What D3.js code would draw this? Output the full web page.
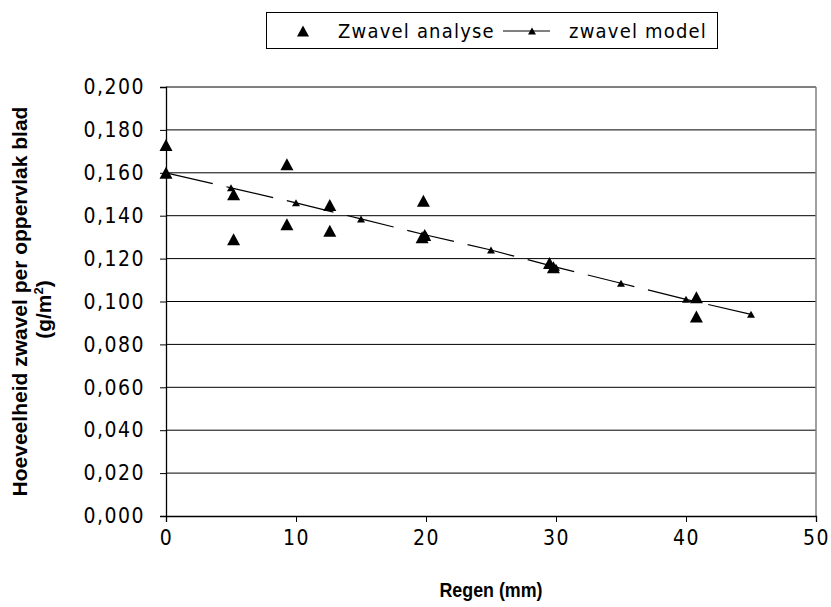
<!DOCTYPE html>
<html>
<head>
<meta charset="utf-8">
<script src="https://cdn.jsdelivr.net/npm/d3@7"></script>
<style>
  body { margin: 0; background: #fff; }
  .tick text, .leg text { font-family: "Liberation Sans Narrow", "DejaVu Sans Condensed", sans-serif; }
  .title { font-family: "Liberation Sans", Arial, sans-serif; font-weight: bold; }
</style>
</head>
<body>
<svg id="chart" width="831" height="607"></svg>
<script>
// measured data (regen in mm, zwavel in g/m2)
const analyseRegen = [0, 0, 5.2, 5.2, 9.3, 9.3, 12.6, 12.6, 19.8, 19.7, 19.9, 29.5, 29.8, 40.8, 40.8];
const analyseZwavel = [0.173, 0.160, 0.150, 0.129, 0.164, 0.136, 0.145, 0.133, 0.147, 0.130, 0.131, 0.118, 0.116, 0.102, 0.093];
const modelRegen = [0, 5, 10, 15, 20, 25, 30, 35, 40, 45];
const modelZwavel = [0.160, 0.153, 0.146, 0.1385, 0.131, 0.124, 0.116, 0.1085, 0.101, 0.094];
const xTicks = [0, 10, 20, 30, 40, 50];
const yTicks = [0, 0.02, 0.04, 0.06, 0.08, 0.1, 0.12, 0.14, 0.16, 0.18, 0.2];

const svg = d3.select("svg#chart");
const margin = { top: 87, right: 15, bottom: 91, left: 166 };
const width = +svg.attr("width");
const height = +svg.attr("height");
const plotW = width - margin.left - margin.right;
const plotH = height - margin.top - margin.bottom;

const x = d3.scaleLinear().domain([0, 50]).range([0, plotW]);
const y = d3.scaleLinear().domain([0, 0.2]).range([plotH, 0]);

const plot = svg.append("g").attr("transform", `translate(${margin.left},${margin.top})`);

// gridlines
plot.selectAll("line.grid").data(yTicks.filter(d => d > 0))
  .join("line").attr("class", "grid")
  .attr("x1", 0).attr("x2", plotW)
  .attr("y1", d => y(d)).attr("y2", d => y(d))
  .attr("stroke", "#000").attr("stroke-width", 1);

// right border of plot area
plot.append("line")
  .attr("x1", plotW).attr("x2", plotW).attr("y1", 0).attr("y2", plotH)
  .attr("stroke", "#808080").attr("stroke-width", 1.5);

const fmt = d => d3.format(".3f")(d).replace(".", ",");

const yAxis = plot.append("g")
  .call(d3.axisLeft(y).tickValues(yTicks).tickFormat(fmt).tickSize(6).tickPadding(15));
const xAxis = plot.append("g").attr("transform", `translate(0,${plotH})`)
  .call(d3.axisBottom(x).tickValues(xTicks).tickSize(6).tickPadding(8));

[yAxis, xAxis].forEach(a => {
  a.select(".domain").attr("stroke", "#000").attr("stroke-width", 1.3);
  a.selectAll(".tick line").attr("stroke", "#000");
  a.selectAll(".tick text").attr("fill", "#000").style("font-size", "21px").style("letter-spacing", "1.5px");
});

// triangle path helper
function tri(cx, cy, w, h) {
  return `M${cx},${cy - h / 2}L${cx + w / 2},${cy + h / 2}L${cx - w / 2},${cy + h / 2}Z`;
}

// model line (dashed) with small triangles
const line = d3.line().x(d => x(d[0])).y(d => y(d[1]));
const modelData = modelRegen.map((r, i) => [r, modelZwavel[i]]);
plot.append("path").datum(modelData)
  .attr("d", line)
  .attr("fill", "none").attr("stroke", "#000").attr("stroke-width", 1.2)
  .attr("stroke-dasharray", "48,14");
plot.selectAll("path.model").data(modelData)
  .join("path").attr("class", "model")
  .attr("d", d => tri(x(d[0]), y(d[1]), 8, 7))
  .attr("fill", "#000");

// analysis points
const analyseData = analyseRegen.map((r, i) => [r, analyseZwavel[i]]);
plot.selectAll("path.analyse").data(analyseData)
  .join("path").attr("class", "analyse")
  .attr("d", d => tri(x(d[0]), y(d[1]), 13, 12))
  .attr("fill", "#000");

// axis titles
const xCenter = margin.left + plotW / 2;
svg.append("text").attr("class", "title")
  .attr("transform", `translate(${xCenter},597) scale(0.85,1)`)
  .attr("text-anchor", "middle").style("font-size", "21px")
  .text("Regen (mm)");

const yt = svg.append("text").attr("class", "title")
  .attr("transform", `translate(0,${margin.top + plotH / 2}) rotate(-90)`)
  .attr("text-anchor", "middle").style("font-size", "21px");
yt.append("tspan").attr("x", 0).attr("y", 27).text("Hoeveelheid zwavel per oppervlak blad");
yt.append("tspan").attr("x", -8).attr("y", 51).text("(g/m");
yt.append("tspan").attr("dy", -8).style("font-size", "13px").text("2");
yt.append("tspan").attr("dy", 8).text(")");

// legend
const leg = svg.append("g").attr("class", "leg");
leg.append("rect").attr("x", 266.5).attr("y", 12.5).attr("width", 451).attr("height", 36)
  .attr("fill", "#fff").attr("stroke", "#000").attr("stroke-width", 1);
leg.append("path").attr("d", tri(303, 31, 12, 11)).attr("fill", "#000");
leg.append("text").attr("x", 338).attr("y", 38).style("font-size", "20px").style("letter-spacing", "1.2px")
  .text("Zwavel analyse");
leg.append("line").attr("x1", 503).attr("x2", 550).attr("y1", 31).attr("y2", 31)
  .attr("stroke", "#000").attr("stroke-width", 1);
leg.append("path").attr("d", tri(532, 31, 8, 7)).attr("fill", "#000");
leg.append("text").attr("x", 569).attr("y", 38).style("font-size", "20px").style("letter-spacing", "1.2px")
  .text("zwavel model");
</script>
</body>
</html>
